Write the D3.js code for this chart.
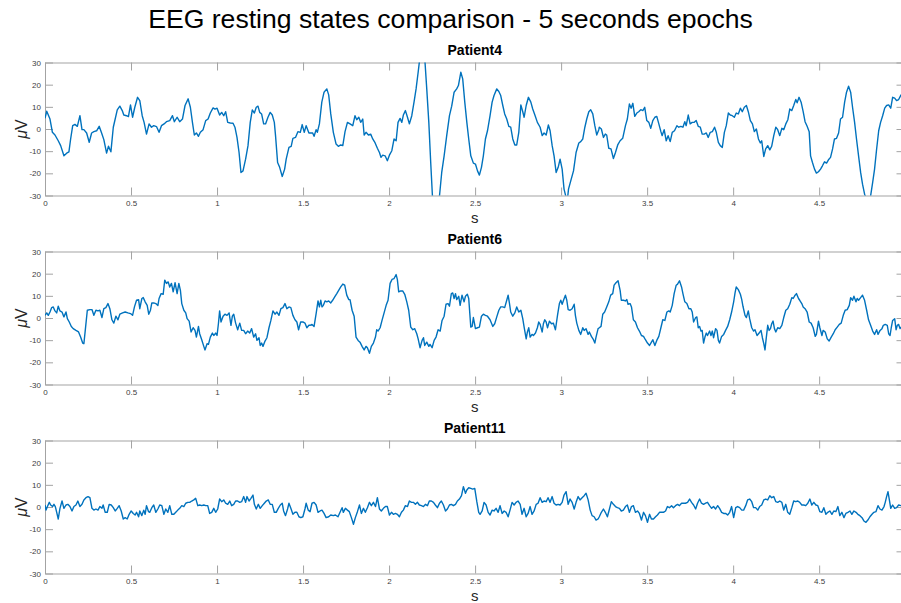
<!DOCTYPE html>
<html>
<head>
<meta charset="utf-8">
<script src="https://cdn.jsdelivr.net/npm/d3@7"></script>
<style>
  body { margin: 0; background: #fff; }
  svg { display: block; }
</style>
</head>
<body>
<script>
// values, [seconds, microvolts]
const xTicks = [0, 0.5, 1, 1.5, 2, 2.5, 3, 3.5, 4, 4.5]
const yTicks = [-30, -20, -10, 0, 10, 20, 30]
const panelTitles = ['Patient4', 'Patient6', 'Patient11']

const patient4 = [
  [0.000,4.8],[0.010,8.0],[0.029,4.5],[0.043,-1.5],[0.058,-2.7],[0.077,-5.3],[0.091,-7.5],[0.110,-12.1],[0.126,-10.9],[0.139,-10.3],
  [0.149,-4.5],[0.161,1.5],[0.174,2.1],[0.188,1.2],[0.203,6.0],[0.215,-0.3],[0.226,-0.3],[0.242,-1.8],[0.257,-6.0],[0.271,-1.8],
  [0.284,-1.2],[0.300,-0.8],[0.315,1.2],[0.329,-1.8],[0.342,-4.8],[0.358,-10.9],[0.369,-7.8],[0.383,-10.3],[0.397,0.8],[0.408,4.5],
  [0.420,8.6],[0.435,10.3],[0.449,8.3],[0.458,6.3],[0.474,6.0],[0.485,5.6],[0.497,10.9],[0.509,5.3],[0.522,9.8],[0.538,14.3],
  [0.551,12.8],[0.565,6.0],[0.576,3.0],[0.590,-2.3],[0.605,2.3],[0.619,0.8],[0.632,1.5],[0.648,1.1],[0.663,-1.5],[0.677,1.5],
  [0.692,2.3],[0.706,3.3],[0.725,3.8],[0.741,6.0],[0.752,3.3],[0.768,5.3],[0.783,3.3],[0.799,4.5],[0.814,10.6],[0.832,13.6],
  [0.845,9.8],[0.857,3.0],[0.868,-2.7],[0.880,-1.8],[0.892,-3.3],[0.903,-1.5],[0.919,-0.3],[0.934,3.8],[0.948,4.5],[0.961,7.2],
  [0.977,9.5],[0.988,9.0],[1.000,9.4],[1.015,6.3],[1.027,7.5],[1.039,6.0],[1.050,7.8],[1.062,3.0],[1.077,2.7],[1.093,2.6],
  [1.104,0.8],[1.116,-3.8],[1.128,-10.6],[1.139,-19.6],[1.151,-18.9],[1.166,-13.6],[1.180,-7.5],[1.193,3.0],[1.205,8.6],[1.217,7.2],
  [1.228,9.8],[1.238,10.3],[1.248,7.5],[1.259,6.8],[1.271,2.3],[1.282,2.3],[1.296,5.3],[1.309,7.5],[1.321,6.3],[1.333,3.0],
  [1.340,-3.0],[1.352,-15.1],[1.364,-17.3],[1.379,-21.4],[1.393,-18.1],[1.402,-13.6],[1.418,-8.3],[1.431,-7.8],[1.441,-4.2],[1.456,-3.8],
  [1.470,-1.2],[1.484,-1.5],[1.495,2.0],[1.507,-1.5],[1.518,1.5],[1.534,-1.8],
  [1.541,-1.8],[1.556,-1.8],[1.564,-3.3],[1.576,-0.3],[1.583,-1.5],[1.595,2.3],[1.609,12.1],[1.622,16.6],[1.638,18.1],[1.649,15.4],
  [1.661,6.8],[1.676,-1.5],[1.692,-6.8],[1.705,-7.8],[1.719,-7.2],[1.731,-7.5],[1.744,-1.2],[1.758,3.0],[1.773,2.3],[1.789,1.5],
  [1.802,6.0],[1.812,4.2],[1.824,5.3],[1.835,3.0],[1.847,4.5],[1.855,-2.7],[1.866,-1.5],[1.880,-2.7],[1.893,-2.3],[1.905,-4.5],
  [1.919,-6.3],[1.932,-8.7],[1.944,-10.6],[1.953,-12.8],[1.963,-11.8],[1.977,-12.1],[1.990,-14.3],[2.002,-11.8],[2.016,-9.8],[2.029,-4.5],
  [2.041,-5.3],[2.052,3.0],[2.064,4.8],[2.074,3.0],[2.083,6.3],[2.095,8.3],[2.107,5.3],[2.118,2.3],[2.132,6.0],[2.145,12.1],
  [2.157,18.1],[2.169,25.6],[2.176,30.2],[2.192,42.0],[2.209,30.0],[2.219,18.1],[2.231,3.0],[2.242,-15.1],[2.252,-30.2],[2.271,-42.0],
  [2.293,-30.2],[2.306,-19.6],[2.320,-12.1],[2.335,-3.0],[2.351,6.0],[2.364,10.3],[2.378,16.6],[2.393,18.1],[2.403,19.6],[2.417,25.6],
  [2.428,22.6],[2.440,12.1],[2.452,3.0],[2.463,-4.5],[2.475,-12.1],[2.490,-15.4],[2.502,-15.8],[2.514,-18.9],[2.525,-20.8],[2.537,-17.3],
  [2.548,-12.1],[2.560,-4.5],[2.572,-0.8],[2.587,6.0],[2.599,12.1],[2.610,15.1],[2.626,18.1],[2.638,16.9],[2.649,15.1],[2.661,10.6],
  [2.672,6.8],[2.684,4.5],[2.696,1.2],[2.707,0.8],[2.719,-4.5],[2.731,-7.2],[2.742,-7.2],[2.754,-1.5],[2.766,10.9],[2.777,7.8],
  [2.785,5.3],[2.797,10.6],[2.810,14.3],[2.824,12.1],[2.835,9.0],[2.849,6.0],[2.862,3.0],[2.878,0.8],[2.890,-3.0],[2.901,-1.8],
  [2.913,-2.7],[2.926,1.8],[2.936,-0.8],[2.948,-7.5],[2.959,-12.1],[2.971,-19.6],[2.983,-17.3],[2.994,-13.6],[3.006,-18.1],[3.017,-27.1],
  [3.029,-30.9],[3.035,-33.0],[3.043,-27.1],[3.056,-23.4],[3.072,-18.9],[3.087,-10.6],[3.103,-6.3],[3.114,-5.7],[3.126,-4.5],[3.138,0.8],
  [3.149,4.5],[3.161,7.8],[3.172,8.7],[3.184,6.8],[3.196,1.5],[3.207,-2.7],[3.219,-0.3],
  [3.222,0.8],[3.234,0.0],[3.246,-3.8],[3.257,-2.3],[3.265,-2.7],[3.277,-8.7],[3.290,-9.0],[3.304,-13.3],[3.316,-10.6],[3.329,-7.2],
  [3.343,-5.3],[3.358,-4.2],[3.374,1.5],[3.385,4.5],[3.397,11.3],[3.407,9.4],[3.417,11.6],[3.428,5.7],[3.440,7.2],[3.451,7.8],
  [3.463,8.7],[3.475,8.3],[3.486,9.8],[3.498,3.8],[3.510,3.0],[3.521,0.3],[3.533,3.8],[3.545,5.3],[3.556,5.7],[3.568,2.3],
  [3.580,-1.2],[3.587,-3.0],[3.599,-0.3],[3.611,-5.3],[3.622,-3.0],[3.634,-5.7],[3.646,-1.5],[3.659,-0.8],[3.673,1.5],[3.684,0.8],
  [3.696,1.2],[3.708,0.8],[3.719,3.3],[3.727,1.5],[3.739,6.3],[3.750,2.3],[3.762,3.0],[3.774,3.0],[3.785,3.8],[3.797,1.2],
  [3.809,0.8],[3.820,-2.3],[3.832,-2.3],[3.844,-1.8],[3.855,-3.8],[3.867,-1.5],[3.879,-1.2],[3.892,0.8],[3.902,-1.5],[3.914,-6.0],
  [3.925,-7.5],[3.937,-8.3],[3.949,-1.5],[3.960,1.5],[3.972,7.2],[3.983,6.3],[3.995,6.0],[4.007,5.3],[4.018,7.2],[4.030,6.8],
  [4.042,9.4],[4.053,7.8],[4.065,9.8],[4.077,10.6],[4.088,7.8],[4.100,3.8],[4.112,2.3],[4.123,-1.2],[4.135,0.0],[4.147,-4.5],
  [4.158,-6.3],[4.166,-5.3],[4.178,-12.4],[4.189,-9.0],[4.201,-7.5],[4.213,-9.4],[4.224,-7.8],[4.236,-3.0],[4.248,0.8],[4.259,-0.3],
  [4.271,-3.0],[4.283,0.3],[4.294,-0.3],[4.306,2.3],[4.318,4.2],[4.329,9.0],[4.341,8.3],[4.352,10.6],[4.364,13.3],[4.372,11.8],
  [4.383,14.3],[4.395,12.1],[4.407,7.8],[4.418,3.3],[4.430,1.2],[4.442,-1.2],[4.450,-12.1],[4.461,-15.1],[4.473,-18.1],[4.484,-19.9],
  [4.496,-19.3],[4.508,-18.1],[4.519,-16.6],[4.531,-14.8],[4.543,-15.4],[4.554,-13.9],[4.566,-12.8],[4.578,-9.0],[4.589,-4.5],[4.601,-4.2],
  [4.613,-1.8],[4.624,4.5],[4.636,5.3],[4.648,12.1],[4.659,16.6],[4.671,19.3],[4.683,16.6],[4.694,9.8],[4.706,3.0],[4.717,-4.5],
  [4.729,-12.1],[4.741,-19.6],[4.752,-24.9],[4.764,-29.4],[4.776,-31.7],[4.785,-34.0],[4.799,-30.2],[4.811,-24.1],[4.822,-18.1],[4.834,-9.0],
  [4.846,-0.8],[4.857,3.0],[4.869,6.0],[4.881,9.4],[4.892,10.6],[4.904,10.9],[4.916,9.4],[4.927,14.3],[4.939,13.9],[4.950,12.8],
  [4.962,13.3],[4.976,15.4],[4.996,15.0]
]

const patient6 = [
  [0.000,1.2],[0.010,2.3],[0.019,1.2],[0.029,2.7],[0.039,4.7],[0.048,5.0],[0.058,3.2],[0.068,2.3],[0.077,5.3],[0.087,3.2],
  [0.099,2.7],[0.110,0.5],[0.122,2.7],[0.130,-0.3],[0.141,-1.8],[0.153,-3.8],[0.164,-4.8],[0.180,-5.6],[0.195,-6.3],[0.207,-8.6],
  [0.219,-11.3],[0.226,-11.6],[0.234,-5.6],[0.246,3.5],[0.261,3.8],[0.273,3.8],[0.284,1.2],[0.296,3.5],[0.308,3.2],[0.319,3.5],
  [0.331,0.2],[0.342,4.2],[0.354,4.7],[0.366,6.5],[0.377,4.2],[0.389,-0.8],[0.400,-2.3],[0.412,0.8],[0.424,-0.8],[0.435,1.7],
  [0.451,2.3],[0.466,2.7],[0.482,2.3],[0.497,2.0],[0.509,1.2],[0.520,5.0],[0.532,8.0],[0.544,8.3],[0.551,4.2],[0.563,8.8],
  [0.571,9.2],[0.582,7.3],[0.594,5.7],[0.603,1.7],[0.613,3.5],[0.621,6.8],[0.632,6.8],[0.644,6.5],[0.656,5.6],[0.663,8.8],
  [0.675,11.0],[0.687,10.7],[0.696,17.1],[0.706,15.6],[0.716,16.3],[0.725,14.0],[0.735,15.6],[0.745,11.8],[0.756,15.9],[0.768,11.0],
  [0.778,15.6],[0.787,12.5],[0.795,6.5],[0.807,3.5],[0.818,2.3],[0.826,-0.3],[0.838,-1.4],[0.849,-6.3],[0.861,-4.4],[0.872,-5.6],
  [0.880,-8.6],[0.892,-3.8],[0.899,-7.1],[0.911,-9.8],[0.923,-12.8],[0.930,-14.4],[0.942,-11.6],[0.950,-11.9],[0.961,-8.6],[0.973,-6.8],
  [0.981,-7.9],[0.992,-6.8],[1.000,-7.9],[1.008,-2.6],[1.015,3.2],[1.023,-1.8],[1.035,0.8],[1.046,1.7],[1.058,1.2],[1.070,2.3],
  [1.081,-3.3],[1.089,0.8],[1.097,1.7],[1.108,-2.3],[1.120,-5.3],[1.132,-2.3],[1.143,-5.6],[1.155,-5.6],[1.166,-7.1],[1.178,-5.9],
  [1.190,-6.8],[1.201,-4.8],[1.213,-8.6],[1.224,-7.1],[1.232,-10.1],[1.244,-8.9],[1.251,-12.4],[1.259,-11.3],[1.267,-12.8],[1.279,-10.4],
  [1.290,-8.9],[1.302,-4.4],[1.313,-1.1],[1.325,3.2],[1.337,1.7],[1.348,2.7],[1.360,1.2],[1.371,4.2],[1.383,4.7],[1.395,6.5],
  [1.406,4.2],[1.418,5.0],[1.429,4.7],[1.441,1.2],[1.453,-0.8],[1.464,-1.8],[1.474,-5.3],[1.486,-1.8],[1.499,-1.8],[1.511,-2.3],
  [1.522,-4.4],[1.534,-3.3],
  [1.541,-3.3],[1.552,-2.9],[1.564,-3.8],[1.576,2.0],[1.587,7.7],[1.595,5.0],[1.603,8.0],[1.610,5.0],[1.618,5.7],[1.628,7.7],
  [1.638,7.3],[1.649,7.7],[1.661,6.8],[1.672,8.0],[1.684,9.5],[1.696,11.0],[1.707,12.5],[1.719,14.0],[1.731,15.3],[1.742,14.8],
  [1.754,10.3],[1.766,8.3],[1.773,8.3],[1.785,3.5],[1.797,0.8],[1.808,-8.6],[1.820,-10.1],[1.831,-10.9],[1.843,-12.8],[1.855,-14.4],
  [1.866,-12.8],[1.874,-13.4],[1.886,-15.9],[1.897,-12.8],[1.909,-11.3],[1.921,-8.6],[1.928,-5.3],[1.936,-5.9],[1.948,-4.4],[1.959,-1.1],
  [1.971,2.3],[1.983,5.7],[1.994,8.0],[2.006,15.6],[2.017,17.4],[2.029,17.8],[2.041,19.6],[2.048,17.4],[2.056,11.8],[2.068,12.2],
  [2.079,12.2],[2.091,10.7],[2.103,7.3],[2.114,3.5],[2.126,-4.1],[2.138,-5.3],[2.149,-4.8],[2.161,-7.1],[2.169,-9.4],[2.180,-13.4],
  [2.192,-10.1],[2.200,-8.9],[2.207,-12.4],[2.219,-10.9],[2.231,-12.8],[2.238,-11.9],[2.250,-13.4],[2.262,-10.1],[2.273,-8.6],[2.285,-5.3],
  [2.297,-5.9],[2.308,-1.1],[2.320,0.8],[2.331,6.2],[2.343,6.5],[2.351,5.3],[2.362,11.0],[2.370,11.3],[2.378,8.8],[2.386,11.0],
  [2.393,8.3],[2.405,9.8],[2.413,5.7],[2.424,10.3],[2.436,7.3],[2.444,9.8],[2.455,10.7],[2.463,8.8],[2.475,-4.1],[2.483,-3.8],
  [2.490,0.2],[2.502,-4.8],[2.514,-4.4],[2.525,-4.1],[2.537,0.8],[2.548,1.7],[2.560,1.2],[2.572,0.8],[2.587,-0.8],[2.603,-3.8],
  [2.614,-2.6],[2.626,0.5],[2.638,3.5],[2.649,5.0],[2.661,5.0],[2.672,4.7],[2.684,8.0],[2.692,10.3],[2.700,6.5],[2.707,2.7],
  [2.719,0.8],[2.731,2.3],[2.742,5.0],[2.754,2.7],[2.766,3.5],[2.777,-0.3],[2.785,-4.1],[2.797,-9.4],[2.804,-6.3],[2.812,-4.4],
  [2.820,-8.6],[2.831,-7.4],[2.839,-7.9],[2.851,-6.8],[2.862,-4.4],[2.870,-1.8],[2.878,-2.9],[2.890,-6.3],[2.897,-2.6],[2.905,-0.8],
  [2.913,-1.8],[2.921,-4.4],[2.932,-1.4],[2.944,-2.6],[2.955,-2.3],[2.967,-5.3],[2.979,1.2],[2.990,6.5],[2.998,8.0],[3.006,6.2],
  [3.014,8.0],[3.025,10.3],[3.033,8.0],[3.041,3.8],[3.052,3.5],[3.064,4.2],[3.076,6.2],[3.083,1.2],[3.091,-2.3],[3.103,-5.6],
  [3.114,-7.4],[3.126,-4.4],[3.134,-5.6],[3.145,-4.8],[3.157,-7.4],[3.164,-6.3],[3.176,-8.3],[3.188,-9.8],[3.196,-11.3],[3.203,-8.6],
  [3.215,-4.8],
  [3.222,-4.4],[3.232,-3.8],[3.242,1.7],[3.253,2.7],[3.265,5.0],[3.277,7.3],[3.288,10.3],[3.300,11.0],[3.308,14.8],[3.319,15.9],
  [3.331,16.8],[3.343,12.5],[3.350,8.0],[3.362,8.0],[3.374,7.7],[3.382,8.3],[3.389,6.2],[3.401,6.5],[3.409,5.0],[3.420,-0.8],
  [3.432,-1.8],[3.444,-4.4],[3.455,-5.9],[3.467,-7.9],[3.479,-8.3],[3.490,-9.8],[3.502,-11.3],[3.514,-12.4],[3.525,-10.9],[3.533,-9.8],
  [3.545,-12.4],[3.556,-10.1],[3.568,-8.3],[3.580,-4.4],[3.591,-0.8],[3.603,-1.1],[3.615,2.7],[3.626,3.2],[3.634,2.7],[3.646,5.7],
  [3.657,11.0],[3.669,14.8],[3.677,15.3],[3.688,16.8],[3.700,14.0],[3.708,11.0],[3.719,7.3],[3.731,6.5],[3.743,4.2],[3.754,4.2],
  [3.762,2.7],[3.770,-1.8],[3.782,0.2],[3.789,0.5],[3.797,-4.4],[3.805,-3.8],[3.813,-5.9],[3.820,-5.6],[3.828,-11.3],[3.836,-8.6],
  [3.844,-6.8],[3.851,-7.9],[3.863,-5.9],[3.871,-7.9],[3.879,-5.9],[3.886,-8.9],[3.898,-4.8],[3.906,-5.6],[3.914,-10.1],[3.921,-11.3],
  [3.933,-8.3],[3.945,-7.4],[3.956,-5.6],[3.968,-3.8],[3.980,-0.8],[3.991,2.7],[4.003,7.3],[4.011,11.3],[4.018,14.0],[4.030,12.8],
  [4.042,10.7],[4.050,8.3],[4.057,5.3],[4.069,1.2],[4.077,0.2],[4.088,3.2],[4.096,-0.3],[4.108,-4.4],[4.119,-5.9],[4.127,-5.3],
  [4.139,-7.9],[4.151,-6.8],[4.162,-5.6],[4.170,-8.9],[4.178,-11.6],[4.185,-14.4],[4.193,-8.6],[4.201,-3.3],[4.209,-5.6],[4.217,-4.8],
  [4.224,-2.6],[4.232,-1.4],[4.240,-4.8],[4.248,-6.3],[4.259,-4.4],[4.271,-4.8],[4.283,-3.3],[4.294,0.2],[4.306,3.5],[4.317,4.2],
  [4.329,6.2],[4.341,9.2],[4.349,8.8],[4.360,10.3],[4.368,11.0],[4.380,8.8],[4.387,8.0],[4.399,6.5],[4.407,5.0],[4.418,4.2],
  [4.430,2.7],[4.442,-1.8],[4.453,-2.3],[4.465,-4.4],[4.477,-8.3],[4.484,-7.4],[4.496,-1.4],[4.504,-4.4],[4.516,-7.9],[4.523,-5.6],
  [4.535,-6.3],[4.547,-9.4],[4.558,-10.4],[4.570,-8.6],[4.582,-7.1],[4.593,-5.3],[4.605,-4.1],[4.617,-2.9],[4.628,-2.3],[4.640,1.2],
  [4.651,3.5],[4.663,3.8],[4.675,5.7],[4.683,9.2],[4.694,8.0],[4.702,9.8],[4.714,7.3],[4.721,8.8],[4.729,8.0],[4.741,9.2],
  [4.752,10.3],[4.764,8.0],[4.776,3.5],[4.787,-0.8],[4.799,-3.3],[4.811,-5.9],[4.822,-7.4],[4.834,-5.3],[4.842,-7.4],[4.854,-5.6],
  [4.865,-4.8],[4.873,-3.3],[4.884,-2.9],[4.896,-3.3],[4.904,-7.1],[4.912,-7.9],[4.919,-4.4],[4.927,-1.1],[4.939,-0.3],[4.947,-5.3],
  [4.954,-3.3],[4.962,-2.9],[4.970,-4.8],[4.976,-4.1],[4.996,-4.5]
]

const patient11 = [
  [0.000,0.9],[0.006,-1.4],[0.014,0.2],[0.025,2.1],[0.033,0.9],[0.044,0.2],[0.052,1.2],[0.060,0.2],[0.068,-2.4],[0.077,-5.4],
  [0.087,-0.6],[0.099,2.7],[0.110,-0.6],[0.122,0.9],[0.133,1.2],[0.145,0.2],[0.157,-1.8],[0.168,0.2],[0.180,0.9],[0.191,2.7],
  [0.203,0.2],[0.215,1.2],[0.226,3.2],[0.238,4.2],[0.250,4.7],[0.261,4.2],[0.273,-0.6],[0.284,-1.4],[0.296,-0.9],[0.308,-1.4],
  [0.319,0.2],[0.331,-0.6],[0.338,0.9],[0.350,-2.4],[0.362,-2.4],[0.373,1.2],[0.385,0.9],[0.397,-0.3],[0.408,-1.8],[0.420,-0.6],
  [0.431,0.6],[0.443,-1.8],[0.455,-5.4],[0.466,-4.8],[0.478,-5.4],[0.489,-3.3],[0.501,-1.8],[0.513,-2.9],[0.524,-3.6],[0.532,-2.4],
  [0.544,-4.4],[0.551,-1.8],[0.563,-3.9],[0.574,-1.4],[0.582,-3.3],[0.590,0.6],[0.602,-2.1],[0.609,-2.4],[0.621,-0.3],[0.632,0.9],
  [0.644,-2.4],[0.656,-0.9],[0.667,0.9],[0.679,0.6],[0.691,-3.3],[0.702,-0.9],[0.714,-2.4],[0.725,0.6],[0.737,-3.3],[0.749,-3.3],
  [0.760,-2.4],[0.772,-1.4],[0.783,-0.6],[0.795,0.6],[0.807,0.2],[0.818,1.7],[0.830,2.1],[0.841,2.1],[0.853,2.7],[0.865,3.2],
  [0.876,3.9],[0.888,0.6],[0.899,0.9],[0.911,0.6],[0.923,0.9],[0.934,0.6],[0.946,0.6],[0.957,-2.9],[0.969,-2.4],[0.981,-0.6],
  [0.992,-2.4],[1.004,-0.9],[1.015,3.6],[1.027,2.4],[1.039,3.2],[1.050,1.7],[1.062,1.2],[1.074,2.7],[1.085,0.6],[1.097,1.2],
  [1.108,2.7],[1.120,2.7],[1.132,2.1],[1.143,2.4],[1.155,4.7],[1.166,2.1],[1.174,4.7],[1.186,2.7],[1.197,3.9],[1.209,5.4],
  [1.217,1.2],[1.228,-0.9],[1.240,1.2],[1.251,-0.6],[1.263,0.6],[1.275,1.7],[1.286,2.7],[1.298,3.2],[1.309,1.2],[1.321,1.2],
  [1.333,-2.4],[1.344,-2.4],[1.356,-0.6],[1.368,0.9],[1.379,1.7],[1.387,-1.8],[1.398,-3.9],[1.410,-0.9],[1.418,1.7],[1.429,-0.6],
  [1.441,-3.3],[1.453,-2.4],[1.464,-2.4],[1.476,-4.4],[1.487,-4.8],[1.499,-4.4],[1.511,-0.9],[1.518,1.7],[1.530,-1.4],
  [1.541,-2.1],[1.552,1.7],[1.564,2.1],[1.576,0.9],[1.587,-2.4],[1.599,-1.8],[1.610,-1.4],[1.622,-2.9],[1.634,-4.8],[1.649,-4.4],
  [1.661,-3.6],[1.676,-3.9],[1.688,-3.6],[1.703,-4.4],[1.715,-2.4],[1.727,-0.3],[1.734,-2.4],[1.746,-0.6],[1.758,-1.4],[1.769,-2.1],
  [1.781,-4.8],[1.793,-7.8],[1.804,-4.8],[1.816,-2.1],[1.828,0.9],[1.839,-2.9],[1.851,-0.6],[1.862,-2.4],[1.874,-0.3],[1.886,2.1],
  [1.897,0.6],[1.909,2.1],[1.921,0.2],[1.932,4.2],[1.944,-0.9],[1.955,-1.8],[1.967,-0.6],[1.979,0.2],[1.990,0.2],[2.002,-3.6],
  [2.014,-2.4],[2.025,-3.3],[2.037,-2.9],[2.048,-3.3],[2.060,-4.4],[2.072,-2.4],[2.083,-1.4],[2.095,0.6],[2.107,0.2],[2.118,2.7],
  [2.130,2.1],[2.141,2.1],[2.153,1.2],[2.165,2.1],[2.176,0.9],[2.188,0.6],[2.200,0.2],[2.211,1.2],[2.223,0.6],[2.234,2.7],
  [2.246,2.7],[2.258,2.1],[2.269,0.9],[2.281,-0.3],[2.293,1.7],[2.304,2.7],[2.316,0.9],[2.328,-1.8],[2.339,-0.9],[2.351,0.9],
  [2.362,1.2],[2.374,0.6],[2.386,1.2],[2.397,2.7],[2.409,3.6],[2.421,5.1],[2.432,9.2],[2.444,6.2],[2.452,7.7],[2.463,8.7],
  [2.475,8.4],[2.486,8.1],[2.498,8.4],[2.510,2.4],[2.521,-2.4],[2.529,-3.3],[2.541,-1.8],[2.552,2.1],[2.564,0.9],[2.576,-2.4],
  [2.587,-3.6],[2.599,-1.4],[2.610,-1.8],[2.622,-0.6],[2.634,-2.4],[2.645,0.6],[2.657,-2.9],[2.669,-1.8],[2.680,-2.4],[2.692,-4.4],
  [2.703,-1.4],[2.715,2.1],[2.727,0.9],[2.738,2.1],[2.750,2.7],[2.762,1.2],[2.773,-3.3],[2.785,-0.6],[2.797,-4.4],[2.808,-2.9],
  [2.820,0.2],[2.831,-3.3],[2.843,-1.8],[2.855,1.2],[2.866,1.7],[2.878,4.2],[2.890,2.1],[2.901,2.7],[2.913,2.4],[2.924,4.2],
  [2.936,2.1],[2.948,4.7],[2.959,1.7],[2.971,0.9],[2.983,1.2],[2.994,0.9],[3.006,2.1],[3.017,5.4],[3.029,6.9],[3.041,1.2],
  [3.052,3.6],[3.064,2.1],[3.076,-0.9],[3.087,2.1],[3.099,4.7],[3.110,3.2],[3.122,4.2],[3.134,5.1],[3.145,6.2],[3.157,3.2],
  [3.169,-1.4],[3.180,-3.9],[3.192,-4.4],[3.203,-5.9],[3.215,-5.4],
  [3.222,-4.4],[3.234,-2.4],[3.246,-0.9],[3.257,-2.4],[3.269,-4.4],[3.281,-0.9],[3.292,2.4],[3.304,1.2],[3.316,0.2],[3.327,-0.3],
  [3.339,-0.6],[3.350,-1.8],[3.362,-1.4],[3.374,0.2],[3.385,0.9],[3.397,-2.4],[3.409,0.2],[3.420,0.6],[3.432,-2.4],[3.444,-1.8],
  [3.455,-2.9],[3.467,-5.9],[3.479,-2.4],[3.490,-3.9],[3.502,-6.9],[3.514,-3.3],[3.525,-5.4],[3.537,-5.4],[3.549,-4.4],[3.560,-3.6],
  [3.572,-2.4],[3.583,-2.4],[3.595,-2.4],[3.607,-1.8],[3.618,0.2],[3.630,-0.3],[3.642,0.6],[3.653,-0.3],[3.665,0.6],[3.677,1.2],
  [3.688,0.6],[3.700,1.7],[3.712,1.7],[3.723,1.7],[3.735,2.1],[3.747,3.6],[3.758,2.1],[3.770,0.9],[3.782,-0.9],[3.793,1.7],
  [3.805,3.6],[3.816,1.7],[3.828,1.2],[3.840,1.7],[3.851,2.1],[3.863,0.6],[3.875,-0.6],[3.886,0.2],[3.898,-0.9],[3.910,0.6],
  [3.921,-0.6],[3.933,-2.4],[3.945,-2.9],[3.956,-2.9],[3.968,-3.6],[3.980,-2.4],[3.991,0.2],[4.003,-4.8],[4.015,-0.3],[4.026,0.2],
  [4.038,-0.3],[4.050,-1.4],[4.061,-1.4],[4.073,0.6],[4.084,3.2],[4.096,3.6],[4.108,2.4],[4.119,-0.3],[4.131,-0.3],[4.143,-1.4],
  [4.154,0.2],[4.166,0.9],[4.178,3.2],[4.189,3.6],[4.201,3.2],[4.213,5.1],[4.224,4.2],[4.236,4.7],[4.248,2.4],[4.259,2.1],
  [4.271,2.7],[4.283,2.1],[4.294,-1.4],[4.306,1.2],[4.317,-2.4],[4.329,-3.3],[4.341,-0.3],[4.352,2.7],[4.364,2.4],[4.376,2.7],
  [4.387,2.1],[4.399,0.9],[4.411,0.9],[4.422,0.6],[4.434,1.7],[4.446,3.6],[4.457,0.9],[4.469,2.1],[4.481,0.9],[4.492,0.6],
  [4.504,-2.1],[4.516,-2.4],[4.527,-0.3],[4.539,-3.3],[4.550,-2.4],[4.562,-1.8],[4.574,-3.3],[4.585,-1.8],[4.597,-2.1],[4.609,0.2],
  [4.620,-3.9],[4.632,-2.4],[4.644,-4.8],[4.655,-2.9],[4.667,-2.4],[4.679,-1.8],[4.690,-3.3],[4.702,-1.8],[4.714,-2.4],[4.725,-3.3],
  [4.737,-3.9],[4.749,-4.8],[4.760,-6.3],[4.772,-6.9],[4.783,-5.9],[4.795,-4.4],[4.807,-3.3],[4.818,-2.4],[4.830,-2.1],[4.842,0.6],
  [4.853,-0.9],[4.865,-1.4],[4.877,0.2],[4.884,2.1],[4.892,4.7],[4.900,6.9],[4.908,3.2],[4.916,-0.6],[4.927,0.9],[4.939,-0.6],
  [4.950,-0.3],[4.962,0.9],[4.976,0.6],[4.996,0.8]
]

const series = [patient4, patient6, patient11]

const width = 901
const height = 603
const font = '"Liberation Sans", Arial, Helvetica, sans-serif'
const axisGray = '#a3a3a3'
const labelGray = '#404040'
const tickLen = 8

// the three axes boxes, top/bottom edge in px
const boxes = [
  {top: 62.5, bottom: 195.5},
  {top: 251.5, bottom: 384.5},
  {top: 440.5, bottom: 573.5},
]
const plotLeft = 45
const plotRight = 904.5

const svg = d3.select('body').append('svg')
  .attr('width', width)
  .attr('height', height)
  .style('font-family', font)

svg.append('text')
  .attr('x', 450.5)
  .attr('y', 28)
  .attr('text-anchor', 'middle')
  .attr('font-size', 26.6)
  .attr('fill', '#000')
  .text('EEG resting states comparison - 5 seconds epochs')

const x = d3.scaleLinear().domain([0, 4.996]).range([plotLeft, plotRight])

function styleAxis(g) {
  g.attr('font-family', font).attr('font-size', 8)
  g.selectAll('.domain').attr('stroke', axisGray)
  g.selectAll('.tick line').attr('stroke', axisGray)
  g.selectAll('.tick text').attr('fill', labelGray)
}

boxes.forEach((box, i) => {
  const y = d3.scaleLinear().domain([-30, 30]).range([box.bottom, box.top])
  const g = svg.append('g')

  g.append('clipPath').attr('id', 'clip' + i)
    .append('rect')
    .attr('x', plotLeft)
    .attr('y', box.top)
    .attr('width', plotRight - plotLeft)
    .attr('height', box.bottom - box.top)

  // box with inward ticks on all four sides, like matlab
  g.append('g')
    .attr('transform', `translate(0,${box.bottom})`)
    .call(d3.axisBottom(x).tickValues(xTicks).tickSize(-tickLen).tickSizeOuter(0)
      .tickPadding(5).tickFormat(d => String(d)))
    .call(styleAxis)
  g.append('g')
    .attr('transform', `translate(0,${box.top})`)
    .call(d3.axisTop(x).tickValues(xTicks).tickSize(-tickLen).tickSizeOuter(0).tickFormat(''))
    .call(styleAxis)
  g.append('g')
    .attr('transform', `translate(${plotLeft},0)`)
    .call(d3.axisLeft(y).tickValues(yTicks).tickSize(-tickLen).tickSizeOuter(0)
      .tickPadding(4).tickFormat(d => String(d)))
    .call(styleAxis)
  g.append('g')
    .attr('transform', `translate(${plotRight},0)`)
    .call(d3.axisRight(y).tickValues(yTicks).tickSize(-tickLen).tickSizeOuter(0).tickFormat(''))
    .call(styleAxis)

  const line = d3.line()
    .x(d => x(d[0]))
    .y(d => y(d[1]))

  g.append('path')
    .datum(series[i])
    .attr('clip-path', `url(#clip${i})`)
    .attr('fill', 'none')
    .attr('stroke', '#0072bd')
    .attr('stroke-width', 1.4)
    .attr('stroke-linejoin', 'round')
    .attr('d', line)

  const midX = (plotLeft + plotRight) / 2

  g.append('text')
    .attr('x', midX)
    .attr('y', box.top - 7.5)
    .attr('text-anchor', 'middle')
    .attr('font-size', 14)
    .attr('font-weight', 'bold')
    .attr('fill', '#000')
    .text(panelTitles[i])

  g.append('text')
    .attr('x', midX)
    .attr('y', box.bottom + 27.5)
    .attr('text-anchor', 'middle')
    .attr('font-size', 15)
    .attr('fill', '#262626')
    .text('s')

  const yl = g.append('text')
    .attr('transform', `translate(27,${(box.top + box.bottom) / 2}) rotate(-90)`)
    .attr('text-anchor', 'middle')
    .attr('font-size', 16)
    .attr('fill', '#262626')
  yl.append('tspan').attr('font-style', 'italic').text('μ')
  yl.append('tspan').text('V')
})
</script>
</body>
</html>
